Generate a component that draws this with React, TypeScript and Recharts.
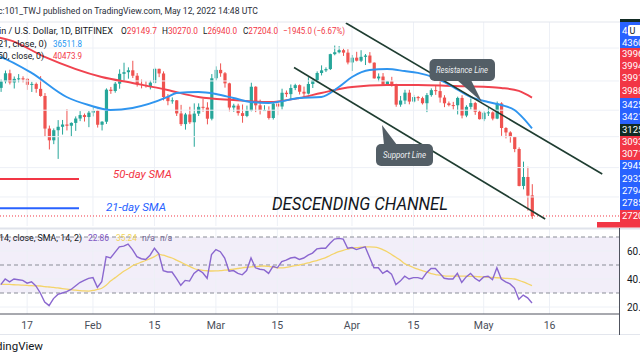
import React from 'react';
import { ComposedChart, Bar, Line, XAxis, YAxis, ReferenceLine, ReferenceArea } from 'recharts';

// Day offsets are counted from 1 Apr 2022; first candle = 11 Jan 2022.
const FIRST_DAY = -80;

const opens = [
  41820, 42740, 43920, 42590, 43100, 43180, 43110, 42250, 42380, 41680,
  40700, 36480, 35070, 36280, 36700, 36980, 36830, 37180, 37730, 38170,
  37920, 38480, 38740, 36950, 37330, 41570, 41380, 42410, 43840, 44080,
  44360, 43560, 42380, 42230, 42080, 42560, 44580, 43890, 40550, 40000,
  40110, 38380, 37030, 38250, 37260, 38360, 39240, 39140, 37710, 43190,
  44420, 43920, 42460, 39150, 39400, 38420, 38060, 38740, 41980, 39440,
  38800, 38820, 37800, 39670, 39280, 41140, 40950, 41800, 42200, 41280,
  41020, 42370, 42890, 43960, 44350, 44540, 46830, 47130, 47460, 47070,
  45540, 46280, 45810, 46410, 46610, 45510, 43170, 43440, 42280, 42760,
  42160, 39530, 40080, 41150, 39940, 40550, 40400, 39720, 40820, 41500,
  41370, 40480, 39710, 39470, 39450, 40430, 38110, 39240, 39740, 38600,
  37650, 38470, 38520, 37720, 39690, 36550, 36010, 35470, 34060, 30090,
  31010, 29149.7,
];
const highs = [
  43000, 44320, 44450, 43450, 43800, 43480, 43200, 42680, 42580, 43500,
  41100, 36850, 36500, 37530, 37550, 38920, 37250, 38000, 38680, 38370,
  38700, 39250, 38850, 37400, 41750, 41950, 42650, 44500, 45500, 44800,
  45800, 43950, 43000, 42750, 42850, 44750, 44600, 44200, 40950, 40500,
  40150, 39500, 38450, 39250, 39700, 39700, 40300, 39850, 43800, 44950,
  45400, 44100, 42550, 39650, 39650, 39550, 39400, 42550, 42050, 40200,
  39450, 39300, 39900, 39900, 41700, 41450, 42300, 42400, 42300, 42000,
  43350, 43000, 44200, 45100, 44800, 46900, 48200, 48100, 47700, 47600,
  46700, 47200, 47450, 46850, 47150, 45550, 43900, 43950, 42800, 43400,
  42400, 40700, 41550, 41550, 40850, 40700, 40600, 41100, 41750, 42150,
  42950, 40800, 39950, 39900, 40600, 40800, 39450, 40350, 39900, 38800,
  38650, 39150, 38650, 39950, 39850, 36650, 36150, 35500, 34250, 32650,
  32100, 30270,
];
const lows = [
  41260, 42450, 42300, 41730, 42600, 42600, 41540, 41250, 41140, 40600,
  35500, 34010, 34620, 32950, 35750, 36250, 35520, 36200, 37400, 37350,
  36650, 38000, 36600, 36250, 37050, 40990, 41150, 41700, 42700, 43130,
  43220, 42000, 41750, 41850, 41600, 42450, 43350, 40100, 39450, 39650,
  38050, 36800, 36350, 37050, 34320, 38050, 38600, 37000, 37500, 42850,
  43400, 41850, 38650, 38600, 38100, 37200, 37900, 38650, 38550, 38250,
  38700, 37600, 37600, 38150, 38900, 40550, 40200, 41500, 40900, 40500,
  40900, 41800, 42600, 43600, 44100, 44400, 46650, 46950, 46550, 45250,
  44250, 45700, 45600, 45150, 45400, 43150, 42750, 42150, 42150, 42000,
  39250, 39250, 39600, 39570, 39800, 40050, 39550, 38550, 40600, 40850,
  39800, 39200, 39300, 38900, 38250, 37750, 37900, 38900, 38200, 37600,
  37400, 38050, 37500, 37650, 35600, 35300, 34800, 33700, 30050, 29750,
  27700, 26940,
];
const closes = [
  42740, 43920, 42590, 43100, 43180, 43110, 42250, 42380, 41680, 40700,
  36480, 35070, 36280, 36700, 36980, 36830, 37180, 37730, 38170, 37920,
  38480, 38740, 36950, 37330, 41570, 41380, 42410, 43840, 44080, 44360,
  43560, 42380, 42230, 42080, 42560, 44580, 43890, 40550, 40000, 40110,
  38380, 37030, 38250, 37260, 38360, 39240, 39140, 37710, 43190, 44420,
  43920, 42460, 39150, 39400, 38420, 38060, 38740, 41980, 39440, 38800,
  38820, 37800, 39670, 39280, 41140, 40950, 41800, 42200, 41280, 41020,
  42370, 42890, 43960, 44350, 44540, 46830, 47130, 47460, 47070, 45540,
  46280, 45810, 46410, 46610, 45510, 43170, 43440, 42280, 42760, 42160,
  39530, 40080, 41150, 39940, 40550, 40400, 39720, 40820, 41500, 41370,
  40480, 39710, 39470, 39450, 40430, 38110, 39240, 39740, 38600, 37650,
  38470, 38520, 37720, 39690, 36550, 36010, 35470, 34060, 30090, 31010,
  29130, 27204,
];

const rsiValues = [
  36, 40, 38, 40, 39.5, 39, 37, 38, 35, 30,
  23.5, 21, 26, 29, 30, 31, 32.5, 35, 37.5, 39,
  40.5, 41, 34, 38, 56, 55, 59, 63, 63.5, 65,
  61, 56, 54.5, 54, 57, 62, 58, 46, 45, 45,
  40.5, 35.5, 39, 38.5, 44, 46.5, 44.5, 40.5, 57.5, 61,
  59.5, 55, 45.5, 46, 44, 43, 46, 55, 48, 47,
  46.5, 44, 49, 48, 52.5, 53.5, 55, 55.5, 54, 55,
  57, 58.5, 61.5, 62, 62, 65.5, 68.5, 69, 68.5, 62,
  62.5, 61, 62, 63, 55.5, 48, 48, 44, 46, 43.5,
  36, 38.5, 42, 40, 41, 41, 40, 44.5, 47.5, 47.5,
  44, 40.5, 40, 40, 44, 37.5, 41.5, 44, 40.5, 38.5,
  41.5, 42, 39.5, 48, 40, 38, 36.5, 33.5, 25.5, 28.5,
  26.5, 22.86,
];
const rsiMa = [
  36.4, 36.2, 36.1, 35.9, 35.8, 35.6, 35.4, 35.2, 35.1, 35,
  34.6, 34.3, 34, 33.6, 33.2, 32.8, 32.4, 32, 31.7, 31.5,
  31.4, 31.8, 32.6, 33.4, 35.5, 38.5, 40.8, 43.2, 45.5, 47.3,
  49.5, 50.8, 52, 53.2, 54.5, 56, 57.6, 57, 56, 55,
  53.5, 52, 50.5, 49, 47.5, 46.6, 46.2, 45.9, 45.7, 45.8,
  46, 46.3, 46.6, 47, 47.5, 48, 48.4, 48.7, 48.9, 49.1,
  49.3, 49, 48.5, 48, 47.9, 48.3, 48.9, 49.6, 50, 50.7,
  51.5, 52.4, 53.2, 54.2, 55.2, 56.8, 58.2, 59.5, 60.5, 61.3,
  62, 62.4, 62.7, 63, 63, 62.8, 62.3, 61, 59.5, 57.5,
  55.5, 53.5, 51, 49.5, 48.2, 47, 46, 45, 43.8, 43.2,
  42.8, 42.3, 42.1, 42, 42, 42, 42, 41.9, 41.8, 41.6,
  41.5, 41.3, 41.1, 40.9, 40.7, 40.5, 40.3, 40, 39, 37.9,
  36.6, 35.24,
];

const sma50Days = [-81, -80, -78, -70, -57, -50, -42, -35, -27, -19, -12, -7, 0, 8, 15, 23, 31, 34, 38, 41];
const sma50Values = [49600, 49440, 49100, 46400, 43370, 42510, 41520, 40560, 40150, 39880, 40420, 41110, 41950, 42230, 42230, 42090, 41950, 41810, 41390, 40473.9];
const sma21Days = [-81, -80, -73, -65, -60, -55, -50, -42, -40, -35, -31, -27, -23, -19, -17, -12, -7, -3, 0, 4, 8, 12, 15, 19, 23, 27, 31, 34, 37, 39, 41];
const sma21Values = [46600, 46380, 43970, 40560, 39480, 38830, 39090, 40560, 41110, 41240, 40970, 40420, 39880, 39750, 39880, 40420, 40560, 41950, 43370, 44400, 44550, 44250, 43970, 43230, 41950, 40560, 39880, 39480, 38830, 37790, 36511.8];

const tickDays = [-74, -59, -45, -31, -17, 0, 14, 30, 45];
const tickLabels = ['17', 'Feb', '15', 'Mar', '15', 'Apr', '15', 'May', '16'];
const priceGrid = [47800, 42800, 38800, 35500, 32000, 29000];
const rsiGrid = [20, 40, 60];
const rsiBands = [70, 50, 30];
const lastClose = 27204;
const channelUpper = [{ x: -1.4, y: 52000 }, { x: 57, y: 31320 }];
const channelLower = [{ x: -13.2, y: 44780 }, { x: 44, y: 26930 }];

const X_DOMAIN: [number, number] = [-80.18, 60.82];
const PRICE_DOMAIN: [number, number] = [26306, 52165];
const RSI_DOMAIN: [number, number] = [15, 76.43];

const GREEN = '#26a69a';
const RED = '#ef5350';
const FONT = 'Roboto, "Noto Sans", sans-serif';

const candleRows = opens.map((o, i) => ({
  d: FIRST_DAY + i,
  o,
  h: highs[i],
  l: lows[i],
  c: closes[i],
  range: [lows[i], highs[i]],
}));
const rsiRows = rsiValues.map((v, i) => ({ d: FIRST_DAY + i, rsi: v, ma: rsiMa[i] }));
const sma50Rows = sma50Days.map((d, i) => ({ d, v: sma50Values[i] }));
const sma21Rows = sma21Days.map((d, i) => ({ d, v: sma21Values[i] }));

function Candle(props: any) {
  const { x, y, width, height, payload } = props;
  if (x == null || y == null || !payload) return null;
  const { o, h, l, c } = payload;
  const top = Math.min(y, y + height);
  const span = Math.abs(height);
  const cx = x + width / 2;
  const lh = Math.log(h);
  const ll = Math.log(l);
  const den = lh - ll || 1;
  const py = (p: number) => top + (span * (lh - Math.log(p))) / den;
  const up = c >= o;
  const color = up ? GREEN : RED;
  const bTop = py(Math.max(o, c));
  const bBot = py(Math.min(o, c));
  return (
    <g>
      <line x1={cx} x2={cx} y1={top} y2={top + span} stroke={color} strokeWidth={1} />
      <rect x={cx - 1.6} y={bTop} width={3.2} height={Math.max(1, bBot - bTop)} fill={color} />
    </g>
  );
}

const priceLabels = [
  { y: 22, h: 26, fill: '#2962ff', texts: [['4', 34], ['43601.3', 46]] },
  { y: 48, h: 50, fill: '#f23645', texts: [['39963.5', 57], ['39941.2', 69], ['39912.0', 81], ['39884.7', 94]] },
  { y: 98, h: 26, fill: '#2962ff', texts: [['34251.9', 108], ['34210.4', 120]] },
  { y: 124, h: 12, fill: '#122b24', texts: [['31258.0', 133]] },
  { y: 136, h: 24, fill: '#f23645', texts: [['30936.1', 145], ['30712.2', 157]] },
  { y: 160, h: 50, fill: '#2962ff', texts: [['29453.8', 169], ['29321.4', 182], ['27946.0', 194], ['27851.3', 206]] },
  { y: 210, h: 12, fill: '#f23645', texts: [['27204.0', 219]] },
];

export default function App() {
  return (
    <div style={{ position: 'fixed', left: 0, top: 0, width: 640, height: 360, overflow: 'hidden', background: '#ffffff' }}>
      <div style={{ position: 'absolute', left: 0, top: 0 }}>
        <ComposedChart width={640} height={230} data={candleRows} margin={{ top: 22, right: 21, bottom: 4, left: 0 }}>
          <XAxis dataKey="d" type="number" domain={X_DOMAIN} allowDataOverflow hide />
          <YAxis type="number" scale="log" domain={PRICE_DOMAIN} allowDataOverflow hide />
          {priceGrid.map((p) => (
            <ReferenceLine key={'pg' + p} y={p} stroke="#edf0f6" strokeWidth={1} />
          ))}
          {tickDays.map((d) => (
            <ReferenceLine key={'pv' + d} x={d} stroke="#edf0f6" strokeWidth={1} />
          ))}
          <Line data={sma50Rows} dataKey="v" type="monotone" stroke="#f0434f" strokeWidth={1.9} dot={false} isAnimationActive={false} />
          <Line data={sma21Rows} dataKey="v" type="monotone" stroke="#2f95ef" strokeWidth={1.9} dot={false} isAnimationActive={false} />
          <Bar dataKey="range" barSize={3} shape={(p: any) => <Candle {...p} />} isAnimationActive={false} />
          <ReferenceLine y={lastClose} stroke="#f23645" strokeDasharray="1 2" strokeWidth={1} />
          <ReferenceLine segment={channelUpper} stroke="#1f3d31" strokeWidth={1.6} />
          <ReferenceLine segment={channelLower} stroke="#1f3d31" strokeWidth={1.6} />
        </ComposedChart>
      </div>
      <div style={{ position: 'absolute', left: 0, top: 226 }}>
        <ComposedChart width={640} height={110} data={rsiRows} margin={{ top: 2, right: 21, bottom: 2, left: 0 }}>
          <XAxis
            dataKey="d"
            type="number"
            domain={X_DOMAIN}
            allowDataOverflow
            ticks={tickDays}
            interval={0}
            tickFormatter={(v: number) => tickLabels[tickDays.indexOf(v)] ?? ''}
            tickLine={false}
            axisLine={{ stroke: '#50535e' }}
            height={20}
            tick={{ fontSize: 10.5, fill: '#4a4e59', fontFamily: FONT }}
          />
          <YAxis type="number" domain={RSI_DOMAIN} allowDataOverflow hide />
          {tickDays.map((d) => (
            <ReferenceLine key={'rv' + d} x={d} stroke="#edf0f6" strokeWidth={1} />
          ))}
          {rsiGrid.map((v) => (
            <ReferenceLine key={'rg' + v} y={v} stroke="#edf0f6" strokeWidth={1} />
          ))}
          <ReferenceArea y1={30} y2={70} fill="#7e57c2" fillOpacity={0.1} stroke="none" />
          {rsiBands.map((v) => (
            <ReferenceLine key={'rb' + v} y={v} stroke="#8a8d97" strokeDasharray="4 3" strokeWidth={1} />
          ))}
          <Line dataKey="ma" type="monotone" stroke="#f4d46a" strokeWidth={1.3} dot={false} isAnimationActive={false} />
          <Line dataKey="rsi" type="linear" stroke="#8a67cf" strokeWidth={1.4} dot={false} isAnimationActive={false} />
        </ComposedChart>
      </div>
      <svg width={640} height={360} style={{ position: 'absolute', left: 0, top: 0, pointerEvents: 'none' }} fontFamily={FONT}>
        {/* frame lines */}
        <line x1={0} x2={640} y1={22} y2={22} stroke="#e3e6ed" strokeWidth={1} />
        <line x1={0} x2={640} y1={228.5} y2={228.5} stroke="#e0e3eb" strokeWidth={2} />
        <line x1={0} x2={640} y1={334.5} y2={334.5} stroke="#e3e6ed" strokeWidth={1} />
        <line x1={619.5} x2={619.5} y1={228} y2={335} stroke="#50535e" strokeWidth={1} />

        {/* header + legends */}
        <text x={-2} y={14} fontSize={9.5} fill="#2a2e39" textLength={260} lengthAdjust="spacingAndGlyphs">c:101_TWJ published on TradingView.com, May 12, 2022 14:48 UTC</text>
        <text x={-1} y={34} fontSize={9} fill="#131722" textLength={114} lengthAdjust="spacingAndGlyphs">in / U.S. Dollar, 1D, BITFINEX</text>
        <text x={121} y={34} fontSize={9} fill="#131722" textLength={36} lengthAdjust="spacingAndGlyphs">O<tspan fill="#f23645">29149.7</tspan></text>
        <text x={162} y={34} fontSize={9} fill="#131722" textLength={36} lengthAdjust="spacingAndGlyphs">H<tspan fill="#f23645">30270.0</tspan></text>
        <text x={203} y={34} fontSize={9} fill="#131722" textLength={34} lengthAdjust="spacingAndGlyphs">L<tspan fill="#f23645">26940.0</tspan></text>
        <text x={243} y={34} fontSize={9} fill="#131722" textLength={35} lengthAdjust="spacingAndGlyphs">C<tspan fill="#f23645">27204.0</tspan></text>
        <text x={283} y={34} fontSize={9} fill="#f23645" textLength={62} lengthAdjust="spacingAndGlyphs">−1945.0 (−6.67%)</text>
        <text x={-2} y={47} fontSize={9.5} fill="#131722" textLength={49} lengthAdjust="spacingAndGlyphs">21, close, 0)</text>
        <text x={53} y={47} fontSize={9.5} fill="#2196f3" textLength={29} lengthAdjust="spacingAndGlyphs">36511.8</text>
        <text x={-2} y={59} fontSize={9.5} fill="#131722" textLength={46} lengthAdjust="spacingAndGlyphs">50, close, 0)</text>
        <text x={53} y={59} fontSize={9.5} fill="#f23645" textLength={29} lengthAdjust="spacingAndGlyphs">40473.9</text>

        {/* SMA legend annotations */}
        <line x1={0} x2={79} y1={179} y2={179} stroke="#f23645" strokeWidth={2} />
        <line x1={0} x2={79} y1={208.3} y2={208.3} stroke="#2962ff" strokeWidth={2} />
        <text x={113} y={178} fontSize={11} fontStyle="italic" fill="#f23645" textLength={59} lengthAdjust="spacingAndGlyphs">50-day SMA</text>
        <text x={106} y={210.5} fontSize={11} fontStyle="italic" fill="#2962ff" textLength={60} lengthAdjust="spacingAndGlyphs">21-day SMA</text>
        <text x={272} y={210} fontSize={18.5} fontStyle="italic" fill="#131722" textLength={176} lengthAdjust="spacingAndGlyphs">DESCENDING CHANNEL</text>

        {/* callouts */}
        <rect x={429.5} y={59} width={65.5} height={22} rx={5} fill="#535e66" />
        <polygon points="457,80 471,80 482,102" fill="#535e66" />
        <text x={462} y={72.5} fontSize={8.5} fontStyle="italic" fill="#eef0f2" textAnchor="middle" textLength={52} lengthAdjust="spacingAndGlyphs">Resistance Line</text>
        <rect x={376} y={144} width={57} height={22} rx={5} fill="#535e66" />
        <polygon points="384,145 397,145 382,125" fill="#535e66" />
        <text x={404.5} y={158} fontSize={8.5} fontStyle="italic" fill="#eef0f2" textAnchor="middle" textLength={43} lengthAdjust="spacingAndGlyphs">Support Line</text>

        {/* price scale labels */}
        <rect x={620} y={19} width={20} height={3} fill="#122b24" />
        {priceLabels.map((g, gi) => (
          <g key={'pl' + gi}>
            <rect x={620} y={g.y} width={20} height={g.h} fill={g.fill} />
            {g.texts.map(([t, by], ti) => (
              <text key={ti} x={622} y={by as number} fontSize={9.5} fill="#ffffff">{t}</text>
            ))}
          </g>
        ))}
        <rect x={628} y={25} width={14} height={11} rx={2} fill="#ffffff" />
        <text x={629.5} y={34} fontSize={9} fill="#131722">U</text>
        <rect x={597} y={222} width={43} height={5.5} fill="#f23645" />

        {/* RSI legend + scale */}
        <text x={-1} y={241} fontSize={9} fill="#131722" textLength={83} lengthAdjust="spacingAndGlyphs">14, close, SMA, 14, 2)</text>
        <text x={88} y={241} fontSize={9} fill="#7e57c2" textLength={21} lengthAdjust="spacingAndGlyphs">22.86</text>
        <text x={116} y={241} fontSize={9} fill="#f2d45a" textLength={21} lengthAdjust="spacingAndGlyphs">35.24</text>
        <text x={142} y={241} fontSize={9} fill="#6a5d8e" textLength={13} lengthAdjust="spacingAndGlyphs">n/a</text>
        <text x={160} y={241} fontSize={9} fill="#6a5d8e" textLength={12} lengthAdjust="spacingAndGlyphs">n/a</text>
        <text x={627} y={255} fontSize={10} fill="#131722">60.0</text>
        <text x={627} y={283} fontSize={10} fill="#131722">40.0</text>
        <text x={627} y={311} fontSize={10} fill="#131722">20.0</text>

        {/* footer */}
        <text x={43} y={350} fontSize={11.5} fill="#131722" textAnchor="end">TradingView</text>
      </svg>
    </div>
  );
}
